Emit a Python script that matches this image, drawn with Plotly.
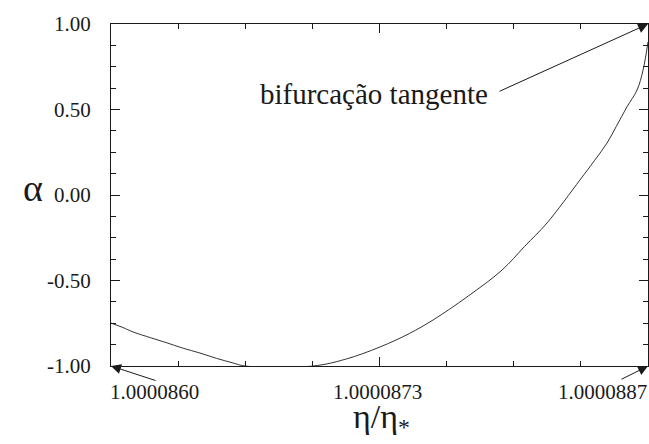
import numpy as np
import plotly.graph_objects as go

# data
eta = [1.0000860, 1.00008606, 1.000086111, 1.00008620, 1.000086282, 1.00008636,
       1.000086447, 1.00008653, 1.000086613, 1.000086674,
       1.000087016, 1.00008718, 1.000087352, 1.00008750, 1.000087619, 1.000087790,
       1.000087966, 1.00008808, 1.000088192, 1.000088358, 1.00008843, 1.000088494,
       1.00008854, 1.000088594, 1.000088645, 1.000088675, 1.0000887]
alpha = [-0.749, -0.775, -0.801, -0.835, -0.865, -0.895,
         -0.924, -0.955, -0.982, -1.0,
         -1.0, -0.96, -0.889, -0.81, -0.731, -0.596,
         -0.439, -0.30, -0.164, 0.088, 0.20, 0.304,
         0.40, 0.515, 0.614, 0.73, 0.895]

x_min, x_max = 1.0000860, 1.0000887
x_tick_vals = [1.0000860, 1.00008735, 1.0000887]
x_tick_text = ["1.0000860", "1.0000873", "1.0000887"]
y_tick_vals = [-1.0, -0.5, 0.0, 0.5, 1.0]
y_tick_text = ["-1.00", "-0.50", "0.00", "0.50", "1.00"]

W, H = 649, 444
L, R, T, B = 111, 1, 24, 78
PW, PH = W - L - R, H - T - B

def px(xp):
    return (xp - L) / PW

def py(yp):
    return (H - B - yp) / PH

FONT = "Liberation Serif"
INK = "#1a1a1a"

fig = go.Figure()
fig.add_trace(go.Scatter(x=eta, y=alpha, mode="lines",
                         line=dict(color="#333333", width=1, shape="spline", smoothing=1.0),
                         hoverinfo="skip", showlegend=False))

minor_x = list(np.linspace(x_min, x_max, 9))

fig.update_layout(
    width=W, height=H,
    margin=dict(l=L, r=R, t=T, b=B, pad=0),
    paper_bgcolor="white", plot_bgcolor="white",
    font=dict(family=FONT, color=INK, size=21),
    showlegend=False,
    xaxis=dict(range=[x_min, x_max], showgrid=False, zeroline=False,
               showline=True, linecolor=INK, linewidth=1.3, mirror="ticks",
               ticks="inside", ticklen=9, tickcolor=INK, tickwidth=1,
               tickmode="array", tickvals=x_tick_vals, showticklabels=False,
               minor=dict(tickmode="array", tickvals=minor_x, ticks="inside",
                          ticklen=5, tickcolor=INK, tickwidth=1, showgrid=False)),
    yaxis=dict(range=[-1, 1], showgrid=False, zeroline=False,
               showline=True, linecolor=INK, linewidth=1.3, mirror="ticks",
               ticks="inside", ticklen=9, tickcolor=INK, tickwidth=1,
               tickmode="array", tickvals=y_tick_vals, ticktext=y_tick_text,
               ticklabelstandoff=15, tickfont=dict(size=21, family=FONT, color=INK),
               minor=dict(dtick=0.125, tick0=0, ticks="inside", ticklen=5,
                          tickcolor=INK, tickwidth=1, showgrid=False)),
)

txt = dict(xref="paper", yref="paper", showarrow=False, xanchor="center", yanchor="middle")
ann = []
# x tick labels as annotations
for xp, t in zip([154, 377, 602], x_tick_text):
    ann.append(dict(x=px(xp), y=py(392), text=t,
                    font=dict(size=21, family=FONT, color=INK), **txt))
# arrows to corners
arrow_style = dict(showarrow=True, arrowhead=2, arrowsize=2, arrowwidth=1,
                   arrowcolor=INK, text="", standoff=0, startstandoff=0)
ann.append(dict(x=x_min, y=-1, xref="x", yref="y", ax=46, ay=15, **arrow_style))
ann.append(dict(x=x_max, y=-1, xref="x", yref="y", ax=-28, ay=14, **arrow_style))
ann.append(dict(x=x_max, y=1, xref="x", yref="y", ax=-150, ay=68, **arrow_style))
# annotation text
ann.append(dict(x=px(374), y=py(94), text="bifurcação tangente",
                font=dict(size=29, family=FONT, color=INK), **txt))
# axis titles
ann.append(dict(x=px(33), y=py(188), text="α",
                font=dict(size=38, family=FONT, color=INK), **txt))
ann.append(dict(x=px(381), y=py(419), text="η/η<sub>*</sub>",
                font=dict(size=34, family=FONT, color=INK), **txt))
fig.update_layout(annotations=ann)

fig.write_html("out.html")
